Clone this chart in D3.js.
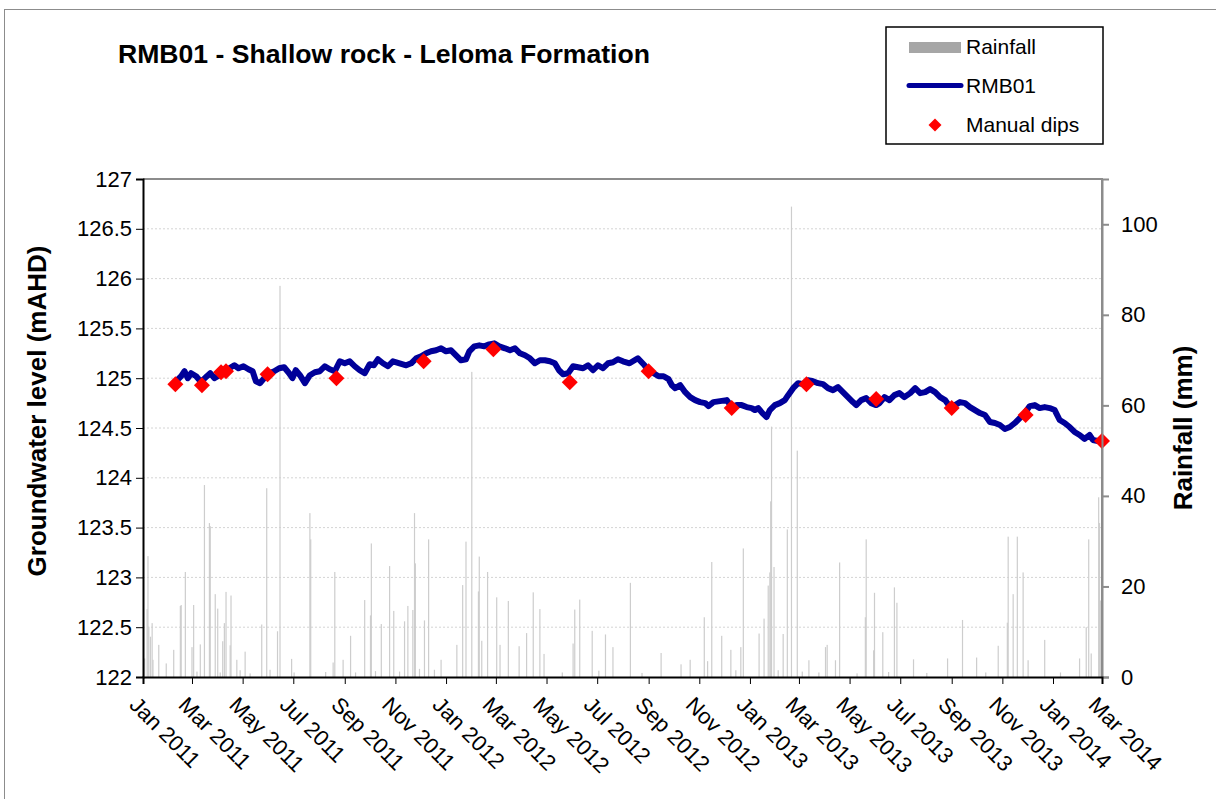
<!DOCTYPE html>
<html>
<head>
<meta charset="utf-8">
<script src="https://cdn.jsdelivr.net/npm/d3@7"></script>
<style>
  body { margin: 0; background: #fff; }
  svg { display: block; font-family: "Liberation Sans", Arial, sans-serif; }
</style>
</head>
<body>
<svg id="chart" width="1216" height="799"></svg>
<script>
// groundwater level logger trace (mAHD)
const levelSeries = [
  ["2011-02-10", 124.97], ["2011-02-16", 125.02], ["2011-02-20", 125.07], ["2011-02-24", 125.00],
  ["2011-02-28", 125.05], ["2011-03-06", 125.02], ["2011-03-10", 124.98], ["2011-03-14", 124.98],
  ["2011-03-19", 125.02], ["2011-03-23", 125.05], ["2011-03-28", 125.00], ["2011-04-03", 125.03],
  ["2011-04-10", 125.07], ["2011-04-15", 125.10], ["2011-04-21", 125.13], ["2011-04-26", 125.10],
  ["2011-05-02", 125.12], ["2011-05-08", 125.09], ["2011-05-13", 125.07], ["2011-05-17", 124.97],
  ["2011-05-22", 124.95], ["2011-05-27", 125.00], ["2011-06-02", 125.05], ["2011-06-08", 125.07],
  ["2011-06-14", 125.10], ["2011-06-20", 125.11], ["2011-06-26", 125.05], ["2011-06-30", 125.00],
  ["2011-07-04", 125.08], ["2011-07-09", 125.03], ["2011-07-15", 124.95], ["2011-07-21", 125.03],
  ["2011-07-27", 125.06], ["2011-08-02", 125.07], ["2011-08-08", 125.12], ["2011-08-14", 125.09],
  ["2011-08-20", 125.07], ["2011-08-26", 125.17], ["2011-09-01", 125.15], ["2011-09-07", 125.17],
  ["2011-09-13", 125.12], ["2011-09-19", 125.08], ["2011-09-25", 125.05], ["2011-10-01", 125.14],
  ["2011-10-06", 125.13], ["2011-10-11", 125.19], ["2011-10-17", 125.15], ["2011-10-23", 125.12],
  ["2011-10-29", 125.17], ["2011-11-06", 125.15], ["2011-11-14", 125.13], ["2011-11-20", 125.15],
  ["2011-11-26", 125.20], ["2011-12-02", 125.22], ["2011-12-08", 125.25], ["2011-12-14", 125.27],
  ["2011-12-20", 125.28], ["2011-12-26", 125.30], ["2012-01-01", 125.27], ["2012-01-07", 125.28],
  ["2012-01-13", 125.23], ["2012-01-19", 125.18], ["2012-01-25", 125.19], ["2012-01-29", 125.27],
  ["2012-02-04", 125.32], ["2012-02-10", 125.33], ["2012-02-16", 125.32], ["2012-02-22", 125.34],
  ["2012-02-28", 125.35], ["2012-03-05", 125.32], ["2012-03-12", 125.30], ["2012-03-18", 125.28],
  ["2012-03-24", 125.30], ["2012-03-30", 125.25], ["2012-04-05", 125.23], ["2012-04-11", 125.20],
  ["2012-04-17", 125.15], ["2012-04-23", 125.18], ["2012-04-29", 125.18], ["2012-05-05", 125.17],
  ["2012-05-11", 125.15], ["2012-05-16", 125.08], ["2012-05-21", 125.04], ["2012-05-27", 125.05],
  ["2012-06-02", 125.12], ["2012-06-08", 125.11], ["2012-06-14", 125.10], ["2012-06-20", 125.13],
  ["2012-06-26", 125.08], ["2012-07-02", 125.13], ["2012-07-08", 125.10], ["2012-07-14", 125.15],
  ["2012-07-20", 125.16], ["2012-07-26", 125.19], ["2012-08-01", 125.17], ["2012-08-09", 125.15],
  ["2012-08-19", 125.20], ["2012-08-27", 125.13], ["2012-09-01", 125.07], ["2012-09-07", 125.05],
  ["2012-09-13", 125.02], ["2012-09-19", 125.02], ["2012-09-25", 124.99], ["2012-09-29", 124.93],
  ["2012-10-03", 124.90], ["2012-10-09", 124.93], ["2012-10-15", 124.86], ["2012-10-21", 124.81],
  ["2012-10-27", 124.78], ["2012-11-02", 124.76], ["2012-11-08", 124.75], ["2012-11-12", 124.72],
  ["2012-11-18", 124.76], ["2012-11-26", 124.77], ["2012-12-04", 124.78], ["2012-12-10", 124.71],
  ["2012-12-16", 124.73], ["2012-12-22", 124.73], ["2012-12-28", 124.71], ["2013-01-03", 124.70],
  ["2013-01-07", 124.68], ["2013-01-11", 124.70], ["2013-01-16", 124.65], ["2013-01-21", 124.61],
  ["2013-01-25", 124.68], ["2013-01-31", 124.73], ["2013-02-06", 124.75], ["2013-02-12", 124.78],
  ["2013-02-16", 124.83], ["2013-02-22", 124.90], ["2013-02-28", 124.95], ["2013-03-06", 124.94],
  ["2013-03-12", 124.98], ["2013-03-18", 124.97], ["2013-03-24", 124.95], ["2013-03-30", 124.94],
  ["2013-04-05", 124.90], ["2013-04-11", 124.88], ["2013-04-17", 124.91], ["2013-04-23", 124.86],
  ["2013-04-29", 124.81], ["2013-05-05", 124.76], ["2013-05-09", 124.73], ["2013-05-15", 124.78],
  ["2013-05-21", 124.80], ["2013-05-27", 124.75], ["2013-06-02", 124.73], ["2013-06-06", 124.75],
  ["2013-06-12", 124.81], ["2013-06-18", 124.78], ["2013-06-24", 124.83], ["2013-06-30", 124.85],
  ["2013-07-06", 124.81], ["2013-07-13", 124.85], ["2013-07-19", 124.90], ["2013-07-25", 124.85],
  ["2013-07-31", 124.86], ["2013-08-06", 124.89], ["2013-08-12", 124.86], ["2013-08-18", 124.81],
  ["2013-08-24", 124.78], ["2013-08-30", 124.71], ["2013-09-05", 124.73], ["2013-09-11", 124.76],
  ["2013-09-17", 124.75], ["2013-09-23", 124.71], ["2013-09-29", 124.68], ["2013-10-05", 124.65],
  ["2013-10-11", 124.63], ["2013-10-17", 124.56], ["2013-10-23", 124.55], ["2013-10-29", 124.53],
  ["2013-11-04", 124.49], ["2013-11-10", 124.51], ["2013-11-16", 124.55], ["2013-11-22", 124.60],
  ["2013-11-28", 124.65], ["2013-12-04", 124.72], ["2013-12-10", 124.73], ["2013-12-16", 124.70],
  ["2013-12-22", 124.71], ["2013-12-28", 124.70], ["2014-01-03", 124.68], ["2014-01-09", 124.58],
  ["2014-01-15", 124.55], ["2014-01-21", 124.51], ["2014-01-27", 124.46], ["2014-02-02", 124.43],
  ["2014-02-08", 124.39], ["2014-02-14", 124.43], ["2014-02-18", 124.38], ["2014-02-24", 124.37]
];

// manual dip readings (mAHD)
const manualDips = [
  ["2011-02-09", 124.94], ["2011-03-13", 124.93], ["2011-04-05", 125.06], ["2011-04-11", 125.07],
  ["2011-05-31", 125.04], ["2011-08-22", 125.00], ["2011-12-05", 125.17], ["2012-02-27", 125.29],
  ["2012-05-29", 124.96], ["2012-09-01", 125.07], ["2012-12-10", 124.70], ["2013-03-10", 124.94],
  ["2013-06-02", 124.79], ["2013-09-01", 124.70], ["2013-11-29", 124.63], ["2014-03-01", 124.37]
];

// daily rainfall (mm), days not listed had no rain
const rainfall = [
  ["2011-01-03", 4.1], ["2011-01-06", 15], ["2011-01-07", 26.7], ["2011-01-08", 11.1],
  ["2011-01-10", 8.9], ["2011-01-12", 11.9], ["2011-01-13", 3.8], ["2011-01-20", 7.1],
  ["2011-01-29", 3.0], ["2011-02-07", 6.0], ["2011-02-15", 15.7], ["2011-02-16", 15.9],
  ["2011-02-21", 23.2], ["2011-03-01", 6.6], ["2011-03-03", 15.9], ["2011-03-07", 1.2],
  ["2011-03-11", 7.2], ["2011-03-16", 42.4], ["2011-03-22", 34.0], ["2011-03-23", 33.3],
  ["2011-03-29", 18.3], ["2011-04-01", 15.1], ["2011-04-04", 1.0], ["2011-04-07", 7.9],
  ["2011-04-09", 11.9], ["2011-04-11", 18.8], ["2011-04-16", 7.0], ["2011-04-17", 18.0],
  ["2011-04-24", 3.8], ["2011-04-28", 1.5], ["2011-05-04", 5.6], ["2011-05-10", 0.8],
  ["2011-05-24", 11.6], ["2011-05-30", 41.7], ["2011-06-03", 1.6], ["2011-06-12", 10.1],
  ["2011-06-15", 86.4], ["2011-06-29", 4.0], ["2011-07-02", 1.0], ["2011-07-21", 36.2],
  ["2011-07-22", 30.4], ["2011-08-09", 1.1], ["2011-08-18", 3.2], ["2011-08-20", 23.2],
  ["2011-08-30", 3.8], ["2011-09-08", 9.1], ["2011-09-14", 1.0], ["2011-09-25", 17.0],
  ["2011-10-02", 13.6], ["2011-10-03", 29.5], ["2011-10-08", 1.3], ["2011-10-15", 11.7],
  ["2011-10-25", 24.5], ["2011-10-30", 14.6], ["2011-11-06", 1.2], ["2011-11-12", 12.3],
  ["2011-11-16", 15.7], ["2011-11-22", 14.8], ["2011-11-24", 36.2], ["2011-11-25", 25.1],
  ["2011-11-30", 1.8], ["2011-12-06", 12.5], ["2011-12-11", 30.4], ["2011-12-18", 1.6],
  ["2011-12-26", 3.8], ["2012-01-14", 7.1], ["2012-01-21", 20.3], ["2012-01-25", 29.9],
  ["2012-02-01", 67.4], ["2012-02-09", 18.9], ["2012-02-10", 26.6], ["2012-02-13", 8.0],
  ["2012-02-20", 23.2], ["2012-03-02", 17.6], ["2012-03-06", 7.1], ["2012-03-16", 16.8],
  ["2012-03-29", 6.8], ["2012-04-07", 9.7], ["2012-04-15", 18.7], ["2012-04-23", 15.0],
  ["2012-04-28", 5.1], ["2012-05-20", 1.0], ["2012-06-02", 7.4], ["2012-06-04", 14.9],
  ["2012-06-10", 17.1], ["2012-06-25", 10.2], ["2012-07-03", 1.4], ["2012-07-11", 9.4],
  ["2012-07-20", 6.6], ["2012-08-10", 20.8], ["2012-08-24", 0.9], ["2012-09-16", 5.3],
  ["2012-10-10", 2.8], ["2012-10-21", 3.8], ["2012-11-07", 13.2], ["2012-11-11", 3.5],
  ["2012-11-16", 25.4], ["2012-11-28", 9.1], ["2012-12-09", 6.0], ["2012-12-15", 1.5],
  ["2012-12-21", 6.6], ["2012-12-24", 28.4], ["2013-01-12", 9.6], ["2013-01-18", 12.9],
  ["2013-01-23", 20.2], ["2013-01-25", 23.1], ["2013-01-26", 38.8], ["2013-01-27", 55.3],
  ["2013-01-30", 24.3], ["2013-02-04", 1.5], ["2013-02-10", 9.5], ["2013-02-15", 32.6],
  ["2013-02-20", 103.9], ["2013-02-27", 50.0], ["2013-03-05", 1.2], ["2013-03-13", 3.7],
  ["2013-03-25", 1.0], ["2013-04-02", 6.6], ["2013-04-04", 7.1], ["2013-04-14", 3.7],
  ["2013-04-19", 25.3], ["2013-05-10", 0.8], ["2013-05-20", 13.2], ["2013-05-21", 30.4],
  ["2013-05-30", 5.9], ["2013-05-31", 18.6], ["2013-06-10", 9.9], ["2013-06-17", 1.1],
  ["2013-06-24", 19.8], ["2013-06-27", 16.4], ["2013-07-17", 3.9], ["2013-08-02", 0.9],
  ["2013-08-27", 4.1], ["2013-09-14", 12.6], ["2013-10-01", 4.3], ["2013-10-12", 1.0],
  ["2013-10-27", 6.9], ["2013-11-07", 12.0], ["2013-11-08", 31.0], ["2013-11-14", 18.3],
  ["2013-11-19", 31.0], ["2013-11-26", 23.1], ["2013-12-02", 3.7], ["2013-12-22", 8.2],
  ["2014-01-10", 1.0], ["2014-02-02", 4.1], ["2014-02-10", 11.0], ["2014-02-13", 30.4],
  ["2014-02-16", 5.2], ["2014-02-25", 39.7], ["2014-02-26", 34.0], ["2014-02-27", 16.9]
];

const levelTicks = [122, 122.5, 123, 123.5, 124, 124.5, 125, 125.5, 126, 126.5, 127];
const rainTicks = [0, 20, 40, 60, 80, 100];
const legendItems = ["Rainfall", "RMB01", "Manual dips"];

const parse = d3.utcParse("%Y-%m-%d");
const svg = d3.select("#chart");
const plot = { left: 143, right: 1102, top: 179, bottom: 677 };

// chart frame (only top and left edges fall inside the picture)
svg.append("rect")
  .attr("x", 4.5).attr("y", 9.5).attr("width", 1300).attr("height", 900)
  .attr("fill", "#fff").attr("stroke", "#8c8c8c").attr("stroke-width", 1);

const x = d3.scaleUtc()
  .domain([parse("2011-01-01"), parse("2014-03-01")])
  .range([plot.left, plot.right]);
const yLevel = d3.scaleLinear().domain([122, 127]).range([plot.bottom, plot.top]);
const yRain = d3.scaleLinear().domain([0, 110]).range([plot.bottom, plot.top]);

// dashed gridlines
svg.append("g").selectAll("line")
  .data(levelTicks.filter(t => t > 122 && t < 127))
  .join("line")
  .attr("x1", plot.left).attr("x2", plot.right)
  .attr("y1", d => yLevel(d)).attr("y2", d => yLevel(d))
  .attr("stroke", "#d4d4d4").attr("stroke-dasharray", "2,2");

// rainfall bars
svg.append("g").selectAll("rect")
  .data(rainfall)
  .join("rect")
  .attr("x", d => x(parse(d[0])) - 0.6)
  .attr("width", 1.2)
  .attr("y", d => yRain(d[1]))
  .attr("height", d => yRain(0) - yRain(d[1]))
  .attr("fill", "#cdcdcd");

// top and right plot borders
svg.append("path")
  .attr("d", `M${plot.left},${plot.top}H${plot.right}V${plot.bottom}`)
  .attr("fill", "none").attr("stroke", "#8c8c8c").attr("stroke-width", 2);

// groundwater line
const line = d3.line()
  .x(d => x(parse(d[0])))
  .y(d => yLevel(d[1]));

svg.append("path")
  .datum(levelSeries)
  .attr("d", line)
  .attr("fill", "none")
  .attr("stroke", "#000099")
  .attr("stroke-width", 6)
  .attr("stroke-linejoin", "round")
  .attr("stroke-linecap", "round");

// manual dips
svg.append("g").selectAll("path")
  .data(manualDips)
  .join("path")
  .attr("transform", d => `translate(${x(parse(d[0]))},${yLevel(d[1])})`)
  .attr("d", "M0,-8L8,0L0,8L-8,0Z")
  .attr("fill", "#ff0000");

// left axis
const leftAxis = svg.append("g")
  .attr("transform", `translate(${plot.left},0)`)
  .call(d3.axisLeft(yLevel).tickValues(levelTicks).tickSize(7).tickPadding(4).tickFormat(d3.format("")));
leftAxis.select(".domain").attr("stroke", "#000").attr("stroke-width", 2);
leftAxis.selectAll("text").attr("font-size", 22).attr("fill", "#000").attr("font-family", "Liberation Sans, Arial, sans-serif");

// right axis
const rightAxis = svg.append("g")
  .attr("transform", `translate(${plot.right},0)`)
  .call(d3.axisRight(yRain).tickValues(rainTicks).tickSize(7).tickPadding(12));
rightAxis.select(".domain").attr("stroke", "#8c8c8c").attr("stroke-width", 2);
rightAxis.selectAll(".tick line").attr("stroke", "#8c8c8c").attr("stroke-width", 2);
rightAxis.selectAll("text").attr("font-size", 22).attr("fill", "#000").attr("font-family", "Liberation Sans, Arial, sans-serif");

// bottom axis
const bottomAxis = svg.append("g")
  .attr("transform", `translate(0,${plot.bottom})`)
  .call(d3.axisBottom(x).ticks(d3.utcMonth.every(2)).tickSize(7).tickFormat(d3.utcFormat("%b %Y")));
bottomAxis.select(".domain").attr("stroke", "#000").attr("stroke-width", 2);
bottomAxis.selectAll("text")
  .attr("font-size", 22).attr("fill", "#000").attr("font-family", "Liberation Sans, Arial, sans-serif")
  .attr("text-anchor", "start")
  .attr("transform", "translate(-4,18) rotate(45)")
  .attr("y", 0).attr("dy", "0.72em");

// titles
svg.append("text")
  .attr("x", 118).attr("y", 63)
  .attr("font-size", 26.6).attr("font-weight", "bold")
  .text("RMB01 - Shallow rock - Leloma Formation");

svg.append("text")
  .attr("transform", "translate(46,411) rotate(-90)")
  .attr("text-anchor", "middle")
  .attr("font-size", 26).attr("font-weight", "bold")
  .text("Groundwater level (mAHD)");

svg.append("text")
  .attr("transform", "translate(1192,428) rotate(-90)")
  .attr("text-anchor", "middle")
  .attr("font-size", 26).attr("font-weight", "bold")
  .text("Rainfall (mm)");

// legend
const legend = svg.append("g").attr("transform", "translate(886,27)");
legend.append("rect")
  .attr("width", 217).attr("height", 117)
  .attr("fill", "#fff").attr("stroke", "#000").attr("stroke-width", 1.5);
legend.append("rect")
  .attr("x", 23).attr("y", 15).attr("width", 52).attr("height", 11).attr("fill", "#a6a6a6");
legend.append("line")
  .attr("x1", 23).attr("x2", 75).attr("y1", 58.5).attr("y2", 58.5)
  .attr("stroke", "#000099").attr("stroke-width", 5).attr("stroke-linecap", "round");
legend.append("path")
  .attr("transform", "translate(49,98)")
  .attr("d", "M0,-6.5L6.5,0L0,6.5L-6.5,0Z")
  .attr("fill", "#ff0000");
legend.selectAll("text.item")
  .data(legendItems)
  .join("text")
  .attr("class", "item")
  .attr("x", 80)
  .attr("y", (d, i) => 27 + i * 39)
  .attr("font-size", 21)
  .text(d => d);
</script>
</body>
</html>
